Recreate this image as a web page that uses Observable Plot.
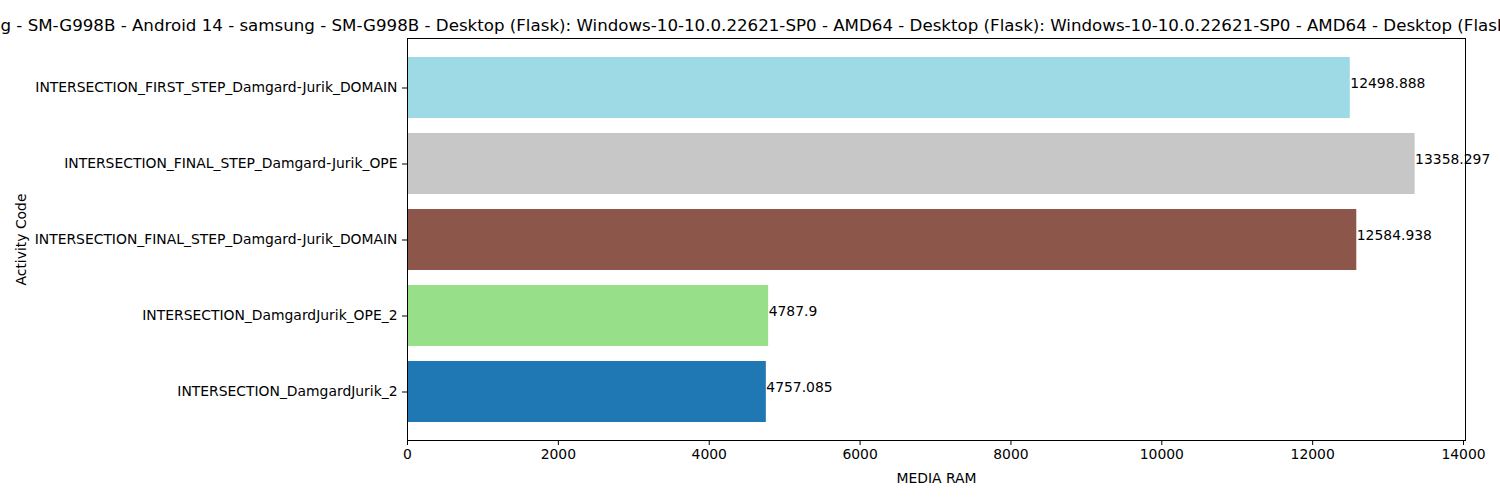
<!DOCTYPE html>
<html>
<head>
<meta charset="utf-8">
<script src="https://cdn.jsdelivr.net/npm/d3@7"></script>
<script src="https://cdn.jsdelivr.net/npm/@observablehq/plot@0.6"></script>
<style>
  html, body { margin: 0; padding: 0; background: white; overflow: hidden; }
  #chart svg { overflow: hidden; }
</style>
</head>
<body>
<div id="chart"></div>
<script>
const categories = [
  "INTERSECTION_DamgardJurik_2",
  "INTERSECTION_DamgardJurik_OPE_2",
  "INTERSECTION_FINAL_STEP_Damgard-Jurik_DOMAIN",
  "INTERSECTION_FINAL_STEP_Damgard-Jurik_OPE",
  "INTERSECTION_FIRST_STEP_Damgard-Jurik_DOMAIN"
];
const values = [4757.085, 4787.9, 12584.938, 13358.297, 12498.888];
const colors = ["#1f77b4", "#98df8a", "#8c564b", "#c7c7c7", "#9edae5"];
const xTicks = [0, 2000, 4000, 6000, 8000, 10000, 12000, 14000];
const titleText = "samsung - SM-G998B - Android 14 - samsung - SM-G998B - Desktop (Flask): Windows-10-10.0.22621-SP0 - AMD64 - Desktop (Flask): Windows-10-10.0.22621-SP0 - AMD64 - Desktop (Flask): Windows-10-10.0.22621-SP0 - AMD64";
const titlePrefixHidden = "samsun";
const xLabel = "MEDIA RAM";
const yLabel = "Activity Code";

const data = categories.map((c, i) => ({cat: c, value: values[i], color: colors[i]}));

const FONT = "DejaVu Sans, sans-serif";
const marginLeft = 407, marginTop = 38, marginRight = 35, marginBottom = 60;

// measure hidden prefix of title to position it like the (clipped) reference
const ctx = document.createElement("canvas").getContext("2d");
ctx.font = "16.67px DejaVu Sans";
const prefixW = ctx.measureText(titlePrefixHidden).width;

const chart = Plot.plot({
  width: 1500,
  height: 500,
  marginLeft, marginTop, marginRight, marginBottom,
  style: {fontFamily: FONT, fontSize: "13.9px", color: "black", background: "white"},
  x: {domain: [0, d3.max(values) * 1.05]},
  y: {domain: categories.slice().reverse(), paddingInner: 0.2, paddingOuter: 0.24},
  marks: [
    Plot.barX(data, {y: "cat", x: "value", fill: "color"}),
    Plot.text(data, {
      y: "cat", x: "value", text: d => String(d.value),
      textAnchor: "start", lineAnchor: "bottom", fill: "black", fontSize: "13.9px"
    }),
    Plot.frame({stroke: "black", strokeWidth: 1}),
    Plot.axisX({
      ticks: xTicks, tickSize: 5, tickPadding: 4, tickFormat: d => String(d),
      label: null, fontSize: "13.9px"
    }),
    Plot.text([xLabel], {
      frameAnchor: "bottom", lineAnchor: "middle", dy: 38, fontSize: "13.9px", fill: "black"
    }),
    Plot.axisY({
      tickSize: 5, tickPadding: 5,
      label: null, fontSize: "13.9px"
    }),
    Plot.text([yLabel], {
      frameAnchor: "left", lineAnchor: "middle", textAnchor: "middle", rotate: -90,
      dx: -386, fontSize: "13.9px", fill: "black"
    }),
    Plot.text([titleText], {
      frameAnchor: "top-left", textAnchor: "start", lineAnchor: "bottom",
      dx: -(marginLeft + prefixW), dy: -8, fontSize: "16.67px", fill: "black"
    })
  ]
});
document.getElementById("chart").appendChild(chart);
</script>
</body>
</html>
